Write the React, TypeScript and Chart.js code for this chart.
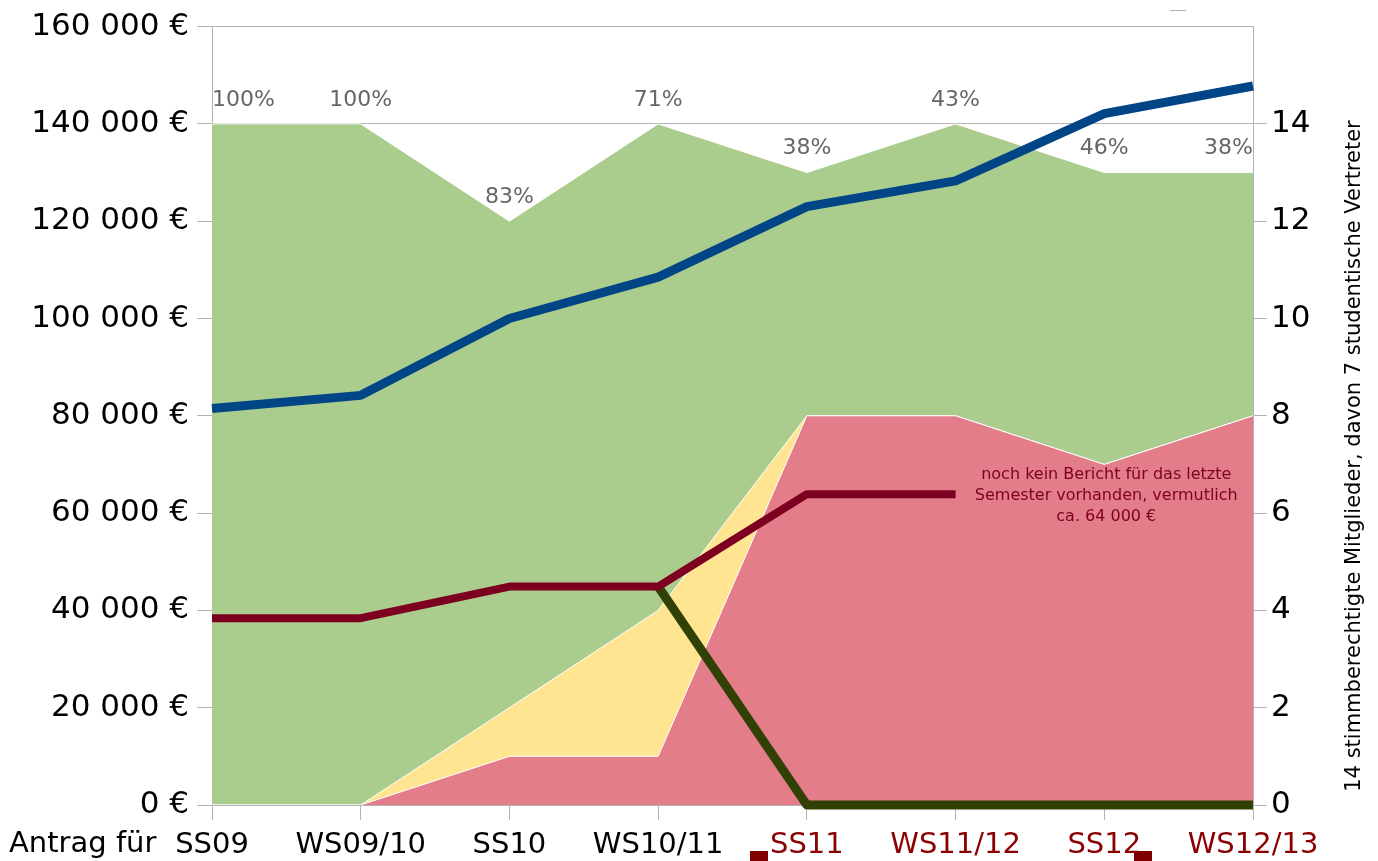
import React, { useEffect, useRef } from 'react';
import { Chart, registerables } from 'chart.js';

Chart.register(...registerables);

// ---- data ----
const categories = ['SS09', 'WS09/10', 'SS10', 'WS10/11', 'SS11', 'WS11/12', 'SS12', 'WS12/13'];
const categoryColors = ['#000000', '#000000', '#000000', '#000000', '#8b0000', '#8b0000', '#8b0000', '#8b0000'];
const budgetLine = [81500, 84200, 100000, 108500, 123000, 128300, 142100, 147800];
const reportLine = [38400, 38400, 44900, 44900, 63900, 63900, null, null];
const dropLine = [null, null, null, 44900, 0, 0, 0, 0];
const membersGreen = [14, 14, 12, 14, 13, 14, 13, 13];
const membersYellow = [0, 0, 2, 4, 8, 8, 7, 8];
const membersRed = [0, 0, 1, 1, 8, 8, 7, 8];
const percentLabels = ['100%', '100%', '83%', '71%', '38%', '43%', '46%', '38%'];
const leftTickMax = 160000;
const leftTickStep = 20000;
const rightTickMax = 16;
const rightTickStep = 2;
const noteLines = ['noch kein Bericht für das letzte', 'Semester vorhanden, vermutlich', 'ca. 64 000 €'];
const rightTitle = '14 stimmberechtigte Mitglieder, davon 7 studentische Vertreter';
const xPrefix = 'Antrag für';

const FONT = 'DejaVu Sans';
const GRID = '#b3b3b3';

function fmtEuro(v: number): string {
  const s = String(Math.round(v));
  const parts: string[] = [];
  let rest = s;
  while (rest.length > 3) {
    parts.unshift(rest.slice(-3));
    rest = rest.slice(0, -3);
  }
  parts.unshift(rest);
  return parts.join(' ') + ' €';
}

const extrasPlugin = {
  id: 'extras',
  afterDatasetsDraw(chart: any) {
    const ctx = chart.ctx as CanvasRenderingContext2D;
    const area = chart.chartArea;
    // percentage labels above the green area
    const greenIdx = chart.data.datasets.findIndex((d: any) => d.label === 'Mitglieder');
    const meta = chart.getDatasetMeta(greenIdx);
    ctx.save();
    ctx.font = `22px "${FONT}"`;
    ctx.fillStyle = '#666666';
    ctx.textBaseline = 'middle';
    meta.data.forEach((pt: any, i: number) => {
      const txt = percentLabels[i];
      let x = pt.x;
      const w = ctx.measureText(txt).width;
      ctx.textAlign = 'center';
      if (x - w / 2 < area.left) { ctx.textAlign = 'left'; x = area.left; }
      if (x + w / 2 > area.right) { ctx.textAlign = 'right'; x = area.right; }
      ctx.fillText(txt, x, pt.y - 24);
    });
    // annotation
    ctx.font = `16px "${FONT}"`;
    ctx.fillStyle = '#7e0021';
    ctx.textAlign = 'center';
    const xs = chart.scales.x;
    const ys = chart.scales.y;
    const nx = (xs.getPixelForValue(5) + xs.getPixelForValue(7)) / 2 + 2;
    const ny = ys.getPixelForValue(64000);
    noteLines.forEach((l, i) => ctx.fillText(l, nx, ny - 19 + i * 21));
    ctx.restore();
  },
  afterDraw(chart: any) {
    const ctx = chart.ctx as CanvasRenderingContext2D;
    const area = chart.chartArea;
    ctx.save();
    // x prefix
    ctx.font = `29px "${FONT}"`;
    ctx.fillStyle = '#000000';
    ctx.textAlign = 'left';
    ctx.textBaseline = 'middle';
    ctx.fillText(xPrefix, 9, 844);
    // right axis title
    ctx.font = `21px "${FONT}"`;
    ctx.translate(1355, 456);
    ctx.rotate(-Math.PI / 2);
    ctx.textAlign = 'center';
    ctx.fillText(rightTitle, 0, 0);
    ctx.restore();
    // legend remnants
    ctx.save();
    ctx.strokeStyle = '#b3b3b3';
    ctx.lineWidth = 1;
    ctx.beginPath();
    ctx.moveTo(1170, 10.5);
    ctx.lineTo(1186, 10.5);
    ctx.stroke();
    ctx.fillStyle = '#7e0000';
    ctx.fillRect(750, 851, 18, 10);
    ctx.fillRect(1134, 851, 18, 10);
    ctx.restore();
  },
};

export default function App() {
  const ref = useRef<HTMLCanvasElement | null>(null);
  useEffect(() => {
    if (!ref.current) return;
    const chart = new Chart(ref.current, {
      type: 'line',
      data: {
        labels: categories,
        datasets: [
          {
            label: 'Budget',
            data: budgetLine,
            yAxisID: 'y',
            borderColor: '#004586',
            borderWidth: 9,
            pointRadius: 0,
            fill: false,
            tension: 0,
            order: 0,
            clip: false,
            borderCapStyle: 'butt',
            borderJoinStyle: 'round',
          },
          {
            label: 'Bericht',
            data: reportLine,
            yAxisID: 'y',
            borderColor: '#7e0021',
            borderWidth: 8,
            pointRadius: 0,
            fill: false,
            tension: 0,
            order: 1,
            clip: false,
            borderCapStyle: 'butt',
            borderJoinStyle: 'round',
          },
          {
            label: 'Rest',
            data: dropLine,
            yAxisID: 'y',
            borderColor: '#314004',
            borderWidth: 9,
            pointRadius: 0,
            fill: false,
            tension: 0,
            order: 2,
            clip: false,
            borderCapStyle: 'butt',
            borderJoinStyle: 'round',
          },
          {
            label: 'Rot',
            data: membersRed,
            yAxisID: 'y1',
            borderColor: '#ffffff',
            borderWidth: 1,
            backgroundColor: '#e37d8a',
            pointRadius: 0,
            fill: 'origin',
            tension: 0,
            order: 10,
          },
          {
            label: 'Gelb',
            data: membersYellow,
            yAxisID: 'y1',
            borderColor: '#ffffff',
            borderWidth: 1,
            backgroundColor: '#ffe591',
            pointRadius: 0,
            fill: 'origin',
            tension: 0,
            order: 11,
          },
          {
            label: 'Mitglieder',
            data: membersGreen,
            yAxisID: 'y1',
            borderColor: '#ffffff',
            borderWidth: 1,
            backgroundColor: '#aacd8e',
            pointRadius: 0,
            fill: 'origin',
            tension: 0,
            order: 12,
          },
        ],
      },
      options: {
        responsive: false,
        animation: false,
        layout: { padding: { top: 25, left: 0, right: 0, bottom: 0 } },
        plugins: {
          legend: { display: false },
          tooltip: { enabled: false },
        },
        scales: {
          x: {
            offset: false,
            grid: { display: true, drawOnChartArea: false, drawTicks: true, tickLength: 15, color: GRID },
            border: { display: true, color: GRID },
            ticks: {
              font: { family: FONT, size: 29 },
              color: categoryColors,
              padding: 8,
              maxRotation: 0,
              autoSkip: false,
            },
            afterFit(scale: any) { scale.height = 56; },
          },
          y: {
            position: 'left',
            min: 0,
            max: leftTickMax,
            grid: { color: GRID, tickLength: 15 },
            border: { display: true, color: GRID },
            ticks: {
              stepSize: leftTickStep,
              font: { family: FONT, size: 31 },
              color: '#000000',
              padding: 8,
              callback: (v: any) => fmtEuro(Number(v)),
            },
            afterFit(scale: any) { scale.width = 212; },
          },
          y1: {
            position: 'right',
            min: 0,
            max: rightTickMax,
            grid: {
              drawOnChartArea: false,
              tickLength: 14,
              color: (c: any) => (c.tick && c.tick.value === rightTickMax ? 'rgba(0,0,0,0)' : GRID),
            },
            border: { display: true, color: GRID },
            ticks: {
              stepSize: rightTickStep,
              font: { family: FONT, size: 31 },
              color: '#000000',
              padding: 4,
              callback: (v: any) => (Number(v) === rightTickMax ? '' : String(v)),
            },
            afterFit(scale: any) { scale.width = 125; },
          },
        },
      },
      plugins: [extrasPlugin],
    } as any);
    return () => chart.destroy();
  }, []);
  return (
    <div style={{ position: 'absolute', left: 0, top: 0, width: 1378, height: 861, background: '#ffffff' }}>
      <canvas ref={ref} width={1378} height={861} style={{ width: 1378, height: 861, display: 'block' }} />
    </div>
  );
}
